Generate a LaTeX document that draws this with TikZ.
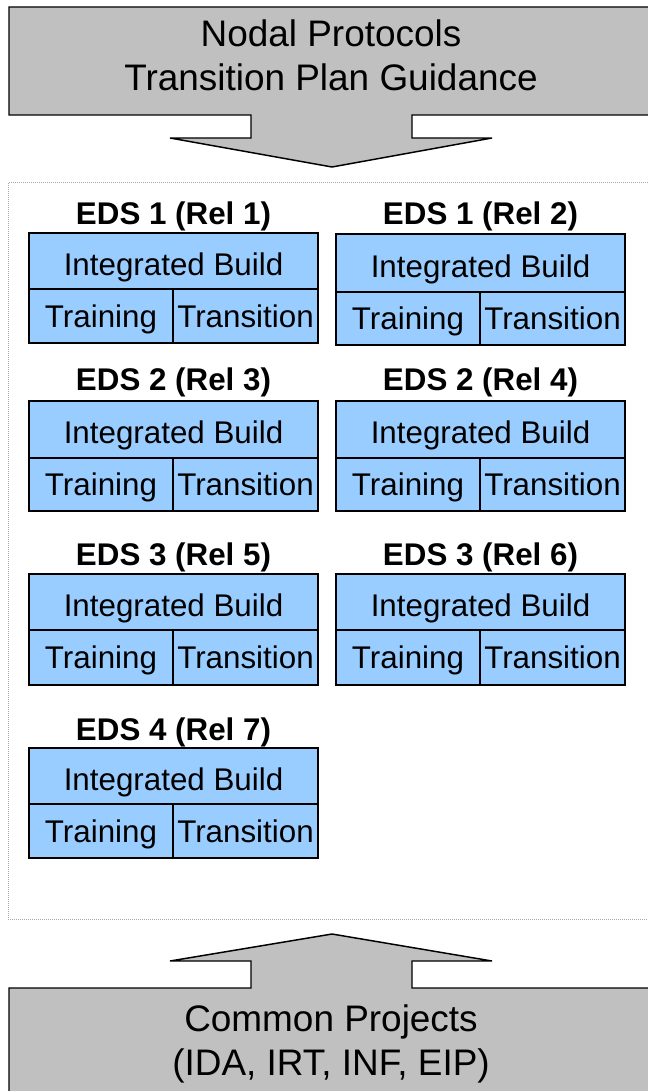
\documentclass[tikz,border=0pt]{standalone}
\usepackage{fontspec}
\setmainfont{Liberation Sans}

\definecolor{cellblue}{HTML}{99CCFF}
\definecolor{panelgray}{HTML}{C0C0C0}
\definecolor{framegray}{HTML}{A8A8A8}

\tikzset{
  cell/.style={draw=black, fill=cellblue, line width=1.1pt, inner sep=0pt, outer sep=0pt,
    font=\fontsize{23.5}{28}\selectfont, text height=16.8pt, text depth=0pt},
  buildcell/.style={cell, text height=21.6pt},
  reltitle/.style={inner sep=0pt, font=\bfseries\fontsize{23.5}{28}\selectfont,
    text height=16.8pt, text depth=0pt},
  panel/.style={draw=black, fill=panelgray, line width=1.1pt, line join=miter},
  paneltext/.style={align=center, inner sep=0pt, font=\fontsize{27.7}{33}\selectfont},
  groupframe/.style={draw=framegray, line width=0.75pt, dash pattern=on 0.75pt off 0.75pt}
}

% one release block: name, title, left x, split x, right x, title y, top y, split y, bottom y
\newcommand\relblock[9]{%
  \node[reltitle] (#1-title) at ({(#3+#5)/2},#6) {#2};
  \node[buildcell, anchor=north west, minimum width={(#5-#3)*0.75}, minimum height={(#8-#7)*0.75}]
    (#1-build) at (#3,#7) {Integrated Build};
  \node[cell, anchor=north west, minimum width={(#4-#3)*0.75}, minimum height={(#9-#8)*0.75}]
    (#1-train) at (#3,#8) {Training};
  \node[cell, anchor=north west, minimum width={(#5-#4)*0.75}, minimum height={(#9-#8)*0.75}]
    (#1-trans) at (#4,#8) {Transition};
}

\begin{document}
\begin{tikzpicture}[x=0.75pt, y=-0.75pt]
  \useasboundingbox (0,0) rectangle (648,1091);
  \clip (0,0) rectangle (648,1091);

  % dotted group frame
  \draw[groupframe] (8,183) rectangle (660,919);

  % top guidance panel with its down arrow
  \draw[panel] (9,7) -- (660,7) -- (660,115) -- (412,115) -- (412,138)
    -- (492,138) -- (332,167) -- (170,138) -- (251,138) -- (251,115)
    -- (9,115) -- cycle;
  \node[paneltext] (guide) at (331,55) {Nodal Protocols\\Transition Plan Guidance};

  % bottom projects panel with its up arrow
  \draw[panel] (9,1100) -- (660,1100) -- (660,988) -- (412,988) -- (412,961)
    -- (492,961) -- (332,934) -- (170,961) -- (251,961) -- (251,988)
    -- (9,988) -- cycle;
  \node[paneltext] (common) at (331,1044) {Common Projects\\(IDA, IRT, INF, EIP)};

  % release blocks
  \relblock{r1}{EDS 1 (Rel 1)}{29}{173}{318}{213}{233}{289}{343}
  \relblock{r2}{EDS 1 (Rel 2)}{336}{480}{625}{213}{234}{292}{345}
  \relblock{r3}{EDS 2 (Rel 3)}{29}{173}{318}{379}{401}{458}{511}
  \relblock{r4}{EDS 2 (Rel 4)}{336}{480}{625}{379}{401}{458}{511}
  \relblock{r5}{EDS 3 (Rel 5)}{29}{173}{318}{554}{574}{630}{685}
  \relblock{r6}{EDS 3 (Rel 6)}{336}{480}{625}{554}{574}{630}{685}
  \relblock{r7}{EDS 4 (Rel 7)}{29}{173}{318}{729}{748}{804}{858}
\end{tikzpicture}
\end{document}
